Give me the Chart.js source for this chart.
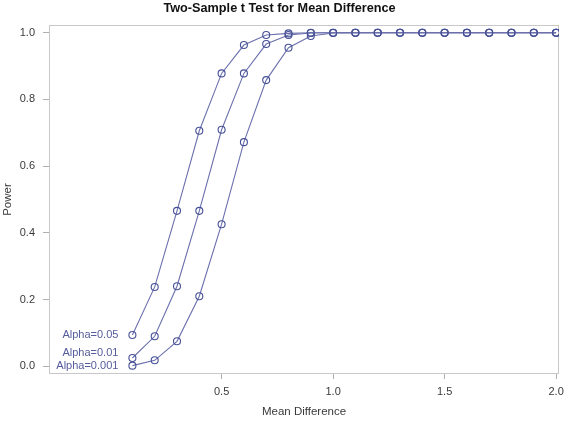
<!DOCTYPE html>
<html>
<head>
<meta charset="utf-8">
<script src="https://cdn.jsdelivr.net/npm/chart.js@4/dist/chart.umd.min.js"></script>
<style>
  html, body { margin: 0; padding: 0; background: #ffffff; }
  #wrap { width: 570px; height: 428px; }
</style>
</head>
<body>
<div id="wrap"><canvas id="c" width="570" height="428"></canvas></div>
<script>
// ---- data ----
const meanDiff = [0.1, 0.2, 0.3, 0.4, 0.5, 0.6, 0.7, 0.8, 0.9, 1.0,
                  1.1, 1.2, 1.3, 1.4, 1.5, 1.6, 1.7, 1.8, 1.9, 2.0];
const powerA05  = [0.094, 0.238, 0.466, 0.706, 0.878, 0.963, 0.993, 0.998, 1.0, 1.0,
                   1.0, 1.0, 1.0, 1.0, 1.0, 1.0, 1.0, 1.0, 1.0, 1.0];
const powerA01  = [0.025, 0.090, 0.240, 0.466, 0.709, 0.878, 0.966, 0.993, 0.999, 1.0,
                   1.0, 1.0, 1.0, 1.0, 1.0, 1.0, 1.0, 1.0, 1.0, 1.0];
const powerA001 = [0.002, 0.018, 0.075, 0.210, 0.426, 0.672, 0.858, 0.955, 0.990, 0.999,
                   1.0, 1.0, 1.0, 1.0, 1.0, 1.0, 1.0, 1.0, 1.0, 1.0];
const seriesLabels = ['Alpha=0.05', 'Alpha=0.01', 'Alpha=0.001'];
const xTickValues = [0.5, 1.0, 1.5, 2.0];
const yTickValues = [0.0, 0.2, 0.4, 0.6, 0.8, 1.0];
const chartTitle = 'Two-Sample t Test for Mean Difference';
const xTitle = 'Mean Difference';
const yTitle = 'Power';

const lineColor = '#6b70ad';
const markColor = '#465096';
const labelColor = '#555c9c';
const textColor = '#3a3a3a';

function pts(ys) { return meanDiff.map((x, i) => ({ x: x, y: ys[i] })); }
function ds(label, ys) {
  return {
    label: label,
    data: pts(ys),
    showLine: true,
    borderColor: lineColor,
    borderWidth: 1.1,
    pointRadius: 3.5,
    pointBorderWidth: 1.1,
    pointBorderColor: markColor,
    pointBackgroundColor: 'rgba(0,0,0,0)',
    tension: 0
  };
}

const frame = {
  id: 'frame',
  beforeDatasetsDraw(chart) {
    const a = chart.chartArea, ctx = chart.ctx;
    ctx.save();
    ctx.strokeStyle = '#c8c8c8';
    ctx.lineWidth = 1;
    ctx.strokeRect(Math.round(a.left) + 0.5, Math.round(a.top) + 0.5,
                   Math.round(a.right - a.left) - 1, Math.round(a.bottom - a.top) - 1);
    ctx.restore();
  }
};

const curveLabels = {
  id: 'curveLabels',
  afterDatasetsDraw(chart) {
    const ctx = chart.ctx;
    const dy = [0, -5, 0];
    ctx.save();
    ctx.font = '11px "Liberation Sans", Arial, sans-serif';
    ctx.fillStyle = labelColor;
    ctx.textAlign = 'right';
    ctx.textBaseline = 'middle';
    chart.data.datasets.forEach((d, i) => {
      const el = chart.getDatasetMeta(i).data[0];
      ctx.fillText(seriesLabels[i], el.x - 14, el.y + dy[i]);
    });
    ctx.restore();
  }
};

new Chart(document.getElementById('c'), {
  type: 'scatter',
  data: { datasets: [ds(seriesLabels[0], powerA05), ds(seriesLabels[1], powerA01), ds(seriesLabels[2], powerA001)] },
  options: {
    responsive: false,
    animation: false,
    layout: { padding: { left: 0, right: 11, top: 0, bottom: 0 } },
    plugins: {
      legend: { display: false },
      tooltip: { enabled: false },
      title: {
        display: true,
        text: chartTitle,
        color: '#111111',
        font: { family: '"Liberation Sans", Arial, sans-serif', size: 12.7, weight: 'bold', lineHeight: 1.2 },
        padding: { top: 1, bottom: 8.8 }
      }
    },
    scales: {
      x: {
        type: 'linear',
        min: -0.274,
        max: 2.013,
        afterBuildTicks: s => { s.ticks = xTickValues.map(v => ({ value: v })); },
        afterFit: s => { s.height = 54; },
        border: { display: false },
        grid: { drawOnChartArea: false, drawTicks: true, tickLength: 5, color: '#b0b0b0' },
        ticks: {
          color: textColor, padding: 6, maxRotation: 0,
          font: { family: '"Liberation Sans", Arial, sans-serif', size: 11 },
          callback: v => Number(v).toFixed(1)
        },
        title: {
          display: true, text: xTitle, color: textColor,
          font: { family: '"Liberation Sans", Arial, sans-serif', size: 11.5 },
          padding: { top: 0, bottom: 9 }
        }
      },
      y: {
        type: 'linear',
        min: -0.023,
        max: 1.023,
        afterBuildTicks: s => { s.ticks = yTickValues.map(v => ({ value: v })); },
        afterFit: s => { s.width = 49; },
        border: { display: false },
        grid: { drawOnChartArea: false, drawTicks: true, tickLength: 6, color: '#b0b0b0' },
        ticks: {
          color: textColor, padding: 8,
          font: { family: '"Liberation Sans", Arial, sans-serif', size: 11 },
          callback: v => Number(v).toFixed(1)
        },
        title: {
          display: true, text: yTitle, color: textColor,
          font: { family: '"Liberation Sans", Arial, sans-serif', size: 11.5 },
          padding: { top: 1, bottom: 0 }
        }
      }
    }
  },
  plugins: [frame, curveLabels]
});
</script>
</body>
</html>
